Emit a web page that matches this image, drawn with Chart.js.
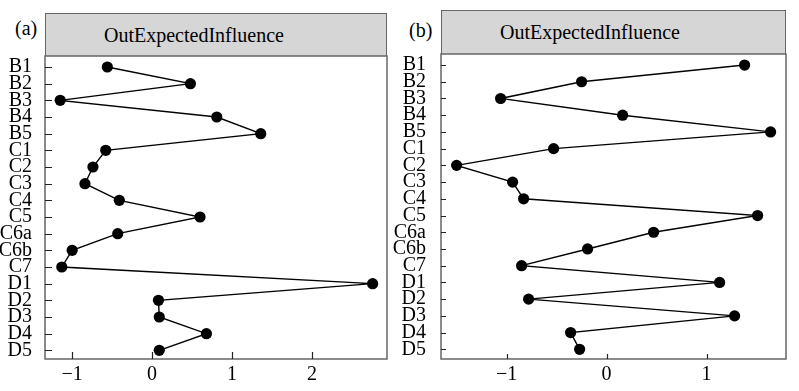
<!DOCTYPE html>
<html><head><meta charset="utf-8">
<script src="https://cdn.jsdelivr.net/npm/chart.js@4/dist/chart.umd.min.js"></script>
<style>
html,body{margin:0;padding:0;background:#fff;}
body{width:799px;height:391px;position:relative;overflow:hidden;font-family:"Liberation Serif","Times New Roman",serif;}
canvas{position:absolute;top:0;}
.strip{position:absolute;box-sizing:border-box;background:#d6d6d6;border:1.5px solid #666;border-bottom:none;font-size:20px;color:#000;display:flex;align-items:center;padding-left:58px;}
.plab{position:absolute;font-size:20px;line-height:20px;color:#000;}
</style></head><body>
<div class="plab" style="left:15px;top:18px">(a)</div>
<div class="strip" style="left:45px;top:13px;width:342px;height:43px;">OutExpectedInfluence</div>
<div class="plab" style="left:409px;top:20px">(b)</div>
<div class="strip" style="left:441px;top:10px;width:345px;height:44px;">OutExpectedInfluence</div>
<canvas id="cA" width="399" height="391" style="left:0"></canvas>
<canvas id="cB" width="409" height="391" style="left:390px"></canvas>
<script>
const nodes = ["B1","B2","B3","B4","B5","C1","C2","C3","C4","C5","C6a","C6b","C7","D1","D2","D3","D4","D5"];
const valuesA = [-0.56, 0.48, -1.15, 0.81, 1.36, -0.58, -0.74, -0.84, -0.41, 0.60, -0.43, -1.00, -1.13, 2.76, 0.08, 0.09, 0.68, 0.09];
const valuesB = [1.38, -0.25, -1.06, 0.16, 1.64, -0.53, -1.50, -0.94, -0.83, 1.51, 0.47, -0.19, -0.85, 1.13, -0.78, 1.28, -0.36, -0.27];
const xTicksA = [-1, 0, 1, 2];
const xTicksB = [-1, 0, 1];

const FONT = '"Liberation Serif","Times New Roman",serif';

const framePlugin = {
  id: 'frame',
  beforeDatasetsDraw(chart, args, opts) {
    const {ctx, chartArea: a, scales} = chart;
    ctx.save();
    ctx.strokeStyle = '#666';
    ctx.lineWidth = 1.5;
    ctx.strokeRect(a.left, a.top, a.right - a.left, a.bottom - a.top);
    ctx.strokeStyle = '#222';
    ctx.lineWidth = 1.2;
    ctx.beginPath();
    scales.y.ticks.forEach(t => {
      const y = Math.round(scales.y.getPixelForValue(t.value)) + 0.5;
      ctx.moveTo(a.left, y); ctx.lineTo(a.left + opts.tickLen, y);
    });
    scales.x.ticks.forEach(t => {
      const x = Math.round(scales.x.getPixelForValue(t.value)) + 0.5;
      ctx.moveTo(x, a.bottom); ctx.lineTo(x, a.bottom - opts.tickLen);
    });
    ctx.stroke();
    ctx.restore();
  }
};

function makeChart(id, values, xTicks, cfg) {
  return new Chart(document.getElementById(id), {
    type: 'scatter',
    data: {
      datasets: [{
        data: nodes.map((n, i) => ({x: values[i], y: i})),
        showLine: true,
        borderColor: '#000',
        backgroundColor: '#000',
        borderWidth: 1.4,
        pointRadius: 5.6,
        pointHoverRadius: 5.6,
        pointBorderWidth: 0,
        tension: 0
      }]
    },
    options: {
      responsive: false,
      animation: false,
      devicePixelRatio: 1,
      layout: {padding: {top: cfg.top, right: cfg.right, left: 0, bottom: 0}},
      plugins: {
        legend: {display: false},
        tooltip: {enabled: false},
        frame: {tickLen: cfg.tickLen}
      },
      scales: {
        x: {
          type: 'linear',
          min: cfg.xmin, max: cfg.xmax,
          grid: {display: false},
          border: {display: false},
          afterBuildTicks: s => { s.ticks = xTicks.map(v => ({value: v})); },
          afterFit: s => { s.height = 32; },
          ticks: {
            color: '#000',
            font: {family: FONT, size: 20},
            padding: -4,
            maxRotation: 0,
            callback: v => String(v).replace('-', '\u2212')
          }
        },
        y: {
          type: 'linear',
          reverse: true,
          min: cfg.ymin, max: cfg.ymax,
          grid: {display: false},
          border: {display: false},
          afterBuildTicks: s => { s.ticks = nodes.map((n, i) => ({value: i})); },
          afterFit: s => { s.width = cfg.yw; },
          ticks: {
            color: '#000',
            font: {family: FONT, size: 20},
            padding: cfg.ypad,
            autoSkip: false,
            callback: v => nodes[v]
          }
        }
      }
    },
    plugins: [framePlugin]
  });
}

makeChart('cA', valuesA, xTicksA, {top: 56, right: 12, yw: 45, ypad: 5, xmin: -1.34, xmax: 2.94, ymin: -0.66, ymax: 17.52, tickLen: 7});
makeChart('cB', valuesB, xTicksB, {top: 54, right: 13, yw: 51, ypad: 7, xmin: -1.656, xmax: 1.794, ymin: -0.66, ymax: 17.58, tickLen: 5});
</script>
</body></html>
